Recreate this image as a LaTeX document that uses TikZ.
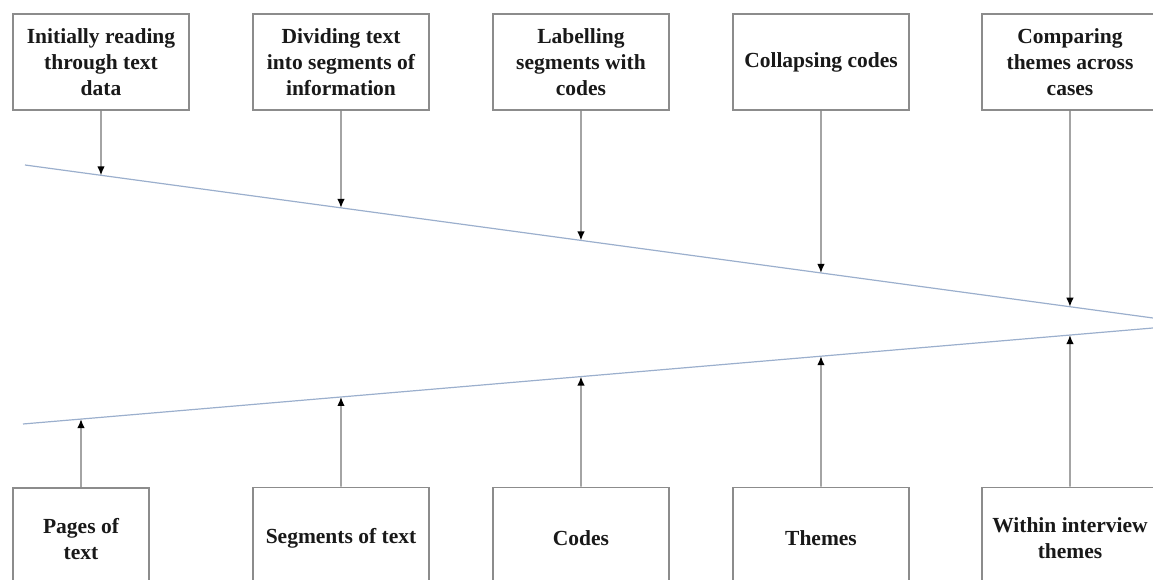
\documentclass[tikz,border=0pt]{standalone}
\usepackage{fontspec}
\setmainfont{Liberation Serif}
\usepackage{tikz}
\usetikzlibrary{arrows.meta,positioning,calc}

\definecolor{boxgray}{RGB}{140,140,140}
\definecolor{funnelblue}{RGB}{155,175,205}

\begin{document}
\begin{tikzpicture}[x=1pt, y=1pt,
    stepbox/.style={draw=boxgray, line width=1.5pt, fill=white, minimum width=176pt, minimum height=96pt,
        align=center, font=\fontsize{21.5}{26}\selectfont\bfseries, text=black!90, inner sep=2pt},
    stepin/.style={stepbox, minimum height=102pt},
    arr/.style={draw=black!55, line width=1.4pt, -{Latex[length=9pt,width=7.5pt,black]}}]
            \useasboundingbox (0,0) rectangle (1153,580);

            % funnel
            \coordinate (ua) at (25,415);
            \coordinate (ub) at (1153,262);
            \coordinate (la) at (23,156);
            \coordinate (lb) at (1153,252);
            \draw[funnelblue, line width=1.2pt] (ua) -- (ub);
            \draw[funnelblue, line width=1.2pt] (la) -- (lb);

            % steps above
            \node[stepbox] (read) at (101,518) {Initially reading\\through text\\data};
            \node[stepbox, right=62.5pt of read] (divide) {Dividing text\\into segments of\\information};
            \node[stepbox, right=62.5pt of divide] (label) {Labelling\\segments with\\codes};
            \node[stepbox, right=62.5pt of label] (collapse) {Collapsing codes};
            \node[stepbox, right=71.5pt of collapse] (compare) {Comparing\\themes across\\cases};

            % results below
            \node[stepin, minimum width=136pt] (pages) at (81,41) {Pages of\\text};
            \node[stepin, below=376pt of divide] (segments) {Segments of text};
            \node[stepin, below=376pt of label] (codes) {Codes};
            \node[stepin, below=376pt of collapse] (themes) {Themes};
            \node[stepin, below=376pt of compare] (within) {Within interview\\themes};

            \draw[arr] (read) -- (intersection of ua--ub and read.south--read.center);
            \draw[arr] (divide) -- (intersection of ua--ub and divide.south--divide.center);
            \draw[arr] (label) -- (intersection of ua--ub and label.south--label.center);
            \draw[arr] (collapse) -- (intersection of ua--ub and collapse.south--collapse.center);
            \draw[arr] (compare) -- (intersection of ua--ub and compare.south--compare.center);

            \draw[arr] (pages) -- (intersection of la--lb and pages.north--pages.center);
            \draw[arr] (segments) -- (intersection of la--lb and segments.north--segments.center);
            \draw[arr] (codes) -- (intersection of la--lb and codes.north--codes.center);
            \draw[arr] (themes) -- (intersection of la--lb and themes.north--themes.center);
            \draw[arr] (within) -- (intersection of la--lb and within.north--within.center);
        \end{tikzpicture}
\end{document}
